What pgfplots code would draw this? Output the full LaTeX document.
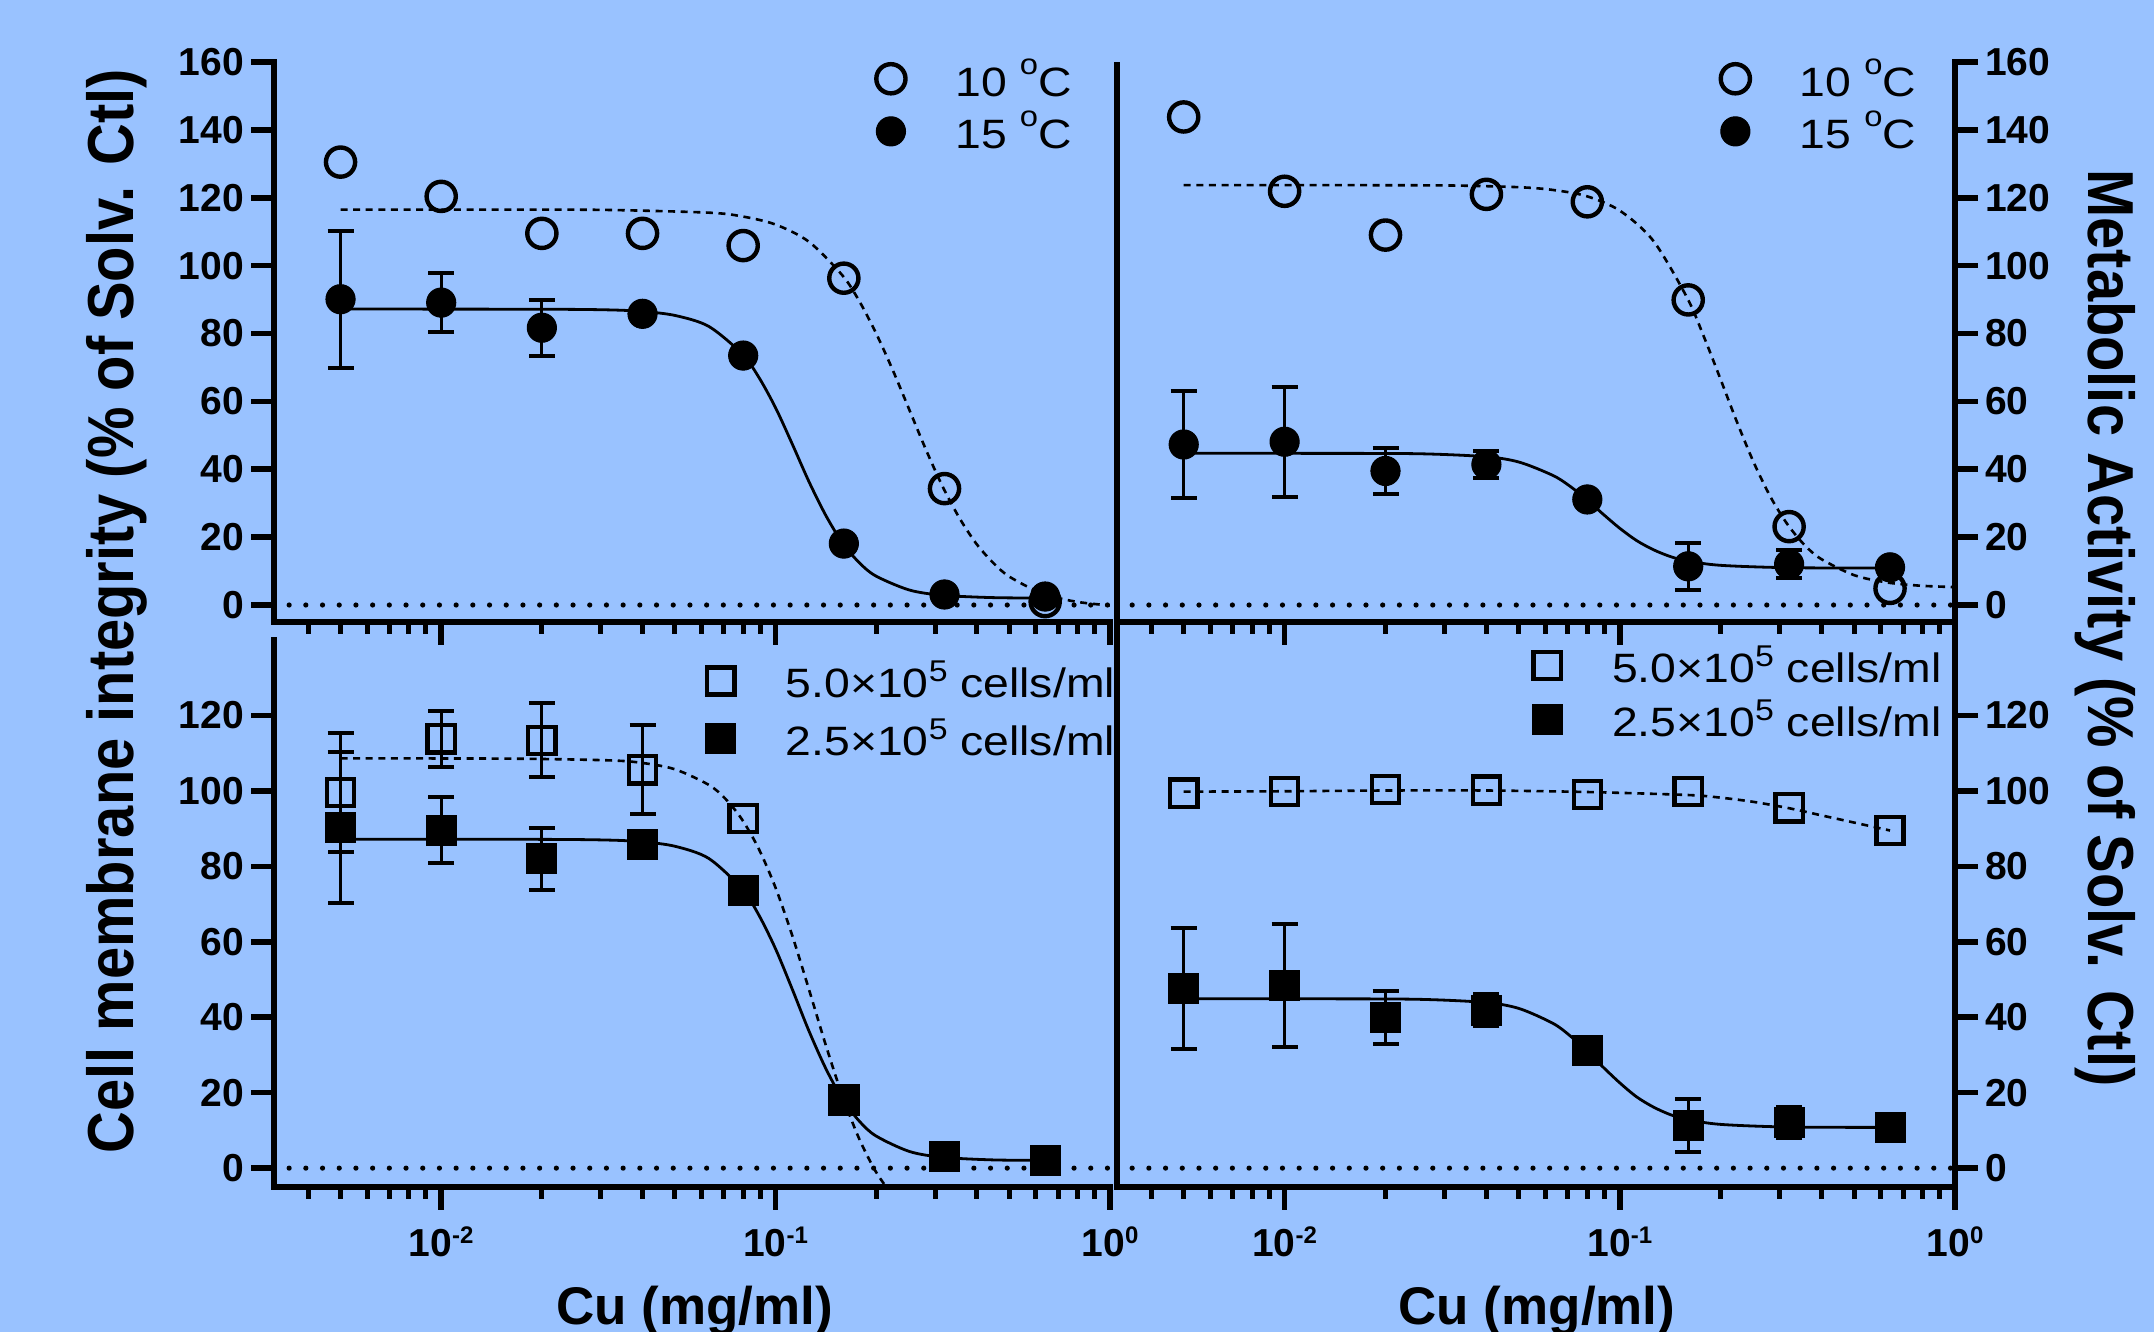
\documentclass[border=0pt]{standalone}
\usepackage{pgfplots}
\pgfplotsset{compat=1.18}
\usepackage{fontspec}
\setmainfont{Liberation Sans}
\newfontfamily\labfont[FakeStretch=0.89]{Liberation Sans}
\newfontfamily\legfont[FakeStretch=1.13]{Liberation Sans}
\definecolor{bg}{RGB}{153,194,255}
\newcommand\ticfont{\fontsize{19.5}{20}\selectfont\bfseries}
\newcommand\legsize{\legfont\fontsize{20.5}{22}\selectfont}
\newcommand\mysup[1]{\raisebox{6.5pt}{\fontsize{12}{12}\selectfont\bfseries #1}}
\newcommand\degC{\raisebox{11pt}{\fontsize{14.5}{14.5}\selectfont o}C}
\newcommand\cells[1]{#1×10\raisebox{8pt}{\fontsize{15}{15}\selectfont 5} cells/ml}

\pgfplotsset{
 every axis/.append style={
  scale only axis,
  xmode=log, log basis x=10,
  xmin=0.0031623, xmax=1,
  axis line style={-, line width=3pt, line cap=rect},
  tick align=outside,
  major tick length=11.5pt,
  minor tick length=6pt,
  major tick style={black, line width=2.8pt, line cap=butt},
  minor tick style={black, line width=2.5pt, line cap=butt},
  xtick={0.01,0.1,1},
  minor xtick={0.004,0.005,0.006,0.007,0.008,0.009,0.02,0.03,0.04,0.05,0.06,0.07,0.08,0.09,0.2,0.3,0.4,0.5,0.6,0.7,0.8,0.9},
  yticklabel style={font=\ticfont},
  xticklabel style={font=\ticfont, yshift=-5pt},
  /pgf/number format/assume math mode=true,
  clip mode=individual,
  axis x line*=bottom,
  legend cell align=left,
  legend style={draw=none, fill=none, inner sep=0pt, row sep=6pt, font=\legsize,
   /tikz/every odd column/.append style={column sep=25pt}, nodes={inner sep=0pt}},
 },
}
\pgfplotsset{
 zeroline/.style={black, line width=2.6pt, line cap=round, dash pattern=on 0pt off 8.35pt, forget plot},
 fitdash/.style={black, line width=1.3pt, dash pattern=on 3.5pt off 2.8pt, smooth, forget plot},
 fitsolid/.style={black, line width=1.4pt, smooth, forget plot},
 ebars/.style={forget plot, draw=none, mark=none,
  error bars/.cd, y dir=both, y explicit,
  error bar style={draw=black, line width=1.5pt, solid},
  error mark options={draw=black, line width=2pt, mark size=6.5pt, rotate=90}},
 opencirc/.style={only marks, mark=o, mark size=7.3pt, mark options={black, line width=2.2pt, fill=none}},
 fillcirc/.style={only marks, mark=*, mark size=7.3pt, mark options={black, fill=black, line width=0.5pt}},
 opensq/.style={only marks, mark=square, mark size=6.8pt, mark options={black, line width=2.2pt, fill=none}},
 fillsq/.style={only marks, mark=square*, mark size=7.5pt, mark options={black, fill=black, line width=0.5pt}},
}

\begin{document}
\begin{tikzpicture}
\fill[bg] (0pt,0pt) rectangle (1077pt,666pt);
\useasboundingbox (0pt,0pt) rectangle (1077pt,666pt);
\clip (0pt,0pt) rectangle (1077pt,666pt);

% ---------------- top left ----------------
\begin{axis}[at={(137pt,355pt)}, anchor=south west, width=418pt, height=280pt,
  ymin=-5, ymax=160, ytick={0,20,...,160}, xticklabels={},
  axis y line*=left, legend style={at={(0.72,1.007)}, anchor=north west}]
\addplot[zeroline] coordinates {(0.00351,0) (1,0)};
\addplot[fitdash] coordinates {(0.005,116.5) (0.0158,116.5) (0.0316,116.4) (0.0631,115.6) (0.0794,114.5) (0.1,112.1) (0.1259,107.0) (0.1585,97.1) (0.1778,89.6) (0.1995,80.2) (0.2239,69.3) (0.2512,57.5) (0.2818,45.7) (0.3162,34.8) (0.3548,25.6) (0.3981,18.1) (0.4467,12.5) (0.5012,8.3) (0.631,3.3) (0.7943,0.95) (1,-0.13)};
\addplot[fitsolid] coordinates {(0.005,87.2) (0.02,87.15) (0.0316,86.96) (0.04,86.5) (0.0501,85.3) (0.0631,82.1) (0.0794,74.0) (0.0891,67.1) (0.1,58.1) (0.1122,47.4) (0.1259,36.3) (0.1413,26.4) (0.1585,18.3) (0.1778,12.5) (0.1995,8.55) (0.2512,4.42) (0.3162,2.87) (0.4467,2.18) (0.64,2.05)};
\addplot[ebars] table[x=x, y=y, y error=e] {
x y e
0.005 90.1 20.2
0.01 89.1 8.7
0.02 81.7 8.2
};
\addplot[opencirc] coordinates {(0.005,130.5) (0.01,120.4) (0.02,109.5) (0.04,109.5) (0.08,105.9) (0.16,96.3) (0.32,34.3) (0.64,1.0)};
\addlegendentry{10 \degC}
\addplot[fillcirc] coordinates {(0.005,90.1) (0.01,89.1) (0.02,81.7) (0.04,85.8) (0.08,73.5) (0.16,18.1) (0.32,3.1) (0.64,2.5)};
\addlegendentry{15 \degC}
\end{axis}

% ---------------- top right ----------------
\begin{axis}[at={(558.5pt,355pt)}, anchor=south west, width=419pt, height=280pt,
  ymin=-5, ymax=160, ytick={0,20,...,160}, xticklabels={},
  axis y line*=right, legend style={at={(0.72,1.007)}, anchor=north west}]
\addplot[zeroline] coordinates {(0.00351,0) (1,0)};
\addplot[fitdash] coordinates {(0.005,123.7) (0.0158,123.7) (0.0316,123.6) (0.0501,123.1) (0.0631,122.3) (0.0794,120.5) (0.1,116.2) (0.1259,107.3) (0.1585,90.7) (0.1778,79.3) (0.1995,66.7) (0.2239,53.8) (0.2512,41.9) (0.2818,31.8) (0.3162,23.8) (0.3548,17.8) (0.3981,13.6) (0.5012,8.76) (0.631,6.6) (0.7943,5.67) (1,5.28)};
\addplot[fitsolid] coordinates {(0.005,44.7) (0.0126,44.68) (0.0251,44.57) (0.0398,43.7) (0.0501,42.1) (0.0631,38.2) (0.0708,35.1) (0.0794,31.2) (0.0891,26.8) (0.1,22.6) (0.1122,19.0) (0.1259,16.3) (0.1413,14.3) (0.1585,13.0) (0.1995,11.7) (0.3162,11.0) (0.64,10.9)};
\addplot[ebars] table[x=x, y=y, y error=e] {
x y e
0.005 47.3 15.85
0.01 48.1 16.15
0.02 39.5 6.8
0.04 41.4 4.05
0.16 11.4 6.9
0.32 12.0 4.15
};
\addplot[opencirc] coordinates {(0.005,143.8) (0.01,121.9) (0.02,109.0) (0.04,121.0) (0.08,118.8) (0.16,89.9) (0.32,23.1) (0.64,4.9)};
\addlegendentry{10 \degC}
\addplot[fillcirc] coordinates {(0.005,47.3) (0.01,48.1) (0.02,39.5) (0.04,41.4) (0.08,31.1) (0.16,11.4) (0.32,12.0) (0.64,11.1)};
\addlegendentry{15 \degC}
\end{axis}

% ---------------- bottom left ----------------
\begin{axis}[at={(137pt,72.5pt)}, anchor=south west, width=418pt, height=273.5pt,
  ymin=-5, ymax=140, ytick={0,20,...,120},
  xticklabels={10\mysup{-2},10\mysup{-1},10\mysup{0}},
  axis y line*=left, legend style={at={(0.516,0.962)}, anchor=north west, row sep=9pt}]
\addplot[zeroline] coordinates {(0.00351,0) (1,0)};
\addplot[fitdash] coordinates {(0.005,108.6) (0.0158,108.55) (0.0316,108.1) (0.04,107.4) (0.0501,105.7) (0.0631,101.6) (0.0708,97.9) (0.0794,92.4) (0.0891,84.6) (0.1,74.3) (0.1122,61.6) (0.1259,47.3) (0.1413,32.6) (0.1585,19.1) (0.1778,7.8) (0.1995,-0.95) (0.2239,-7.3)};
\addplot[fitsolid] coordinates {(0.005,87.2) (0.02,87.15) (0.0316,86.96) (0.04,86.5) (0.0501,85.3) (0.0631,82.1) (0.0794,74.0) (0.0891,67.1) (0.1,58.1) (0.1122,47.4) (0.1259,36.3) (0.1413,26.4) (0.1585,18.3) (0.1778,12.5) (0.1995,8.55) (0.2512,4.42) (0.3162,2.87) (0.4467,2.18) (0.64,2.05)};
\addplot[ebars] table[x=x, y=y, y error=e] {
x y e
0.005 99.6 15.8
0.01 113.8 7.5
0.02 113.4 9.8
0.04 105.6 11.8
0.005 90.2 20.0
0.01 89.6 8.7
0.02 82.0 8.2
};
\addplot[opensq] coordinates {(0.005,99.6) (0.01,113.8) (0.02,113.4) (0.04,105.6) (0.08,92.7) (0.16,18.0)};
\addlegendentry{\cells{5.0}}
\addplot[fillsq] coordinates {(0.005,90.2) (0.01,89.6) (0.02,82.0) (0.04,85.8) (0.08,73.6) (0.16,17.9) (0.32,3.2) (0.64,1.9)};
\addlegendentry{\cells{2.5}}
\end{axis}

% ---------------- bottom right ----------------
\begin{axis}[at={(558.5pt,72.5pt)}, anchor=south west, width=419pt, height=273.5pt,
  ymin=-5, ymax=140, ytick={0,20,...,120},
  xticklabels={10\mysup{-2},10\mysup{-1},10\mysup{0}},
  axis y line*=right, legend style={at={(0.495,0.99)}, anchor=north west, row sep=7pt}]
\addplot[zeroline] coordinates {(0.00351,0) (1,0)};
\addplot[fitdash] coordinates {(0.005,99.8) (0.01,99.9) (0.02,100.1) (0.04,100.1) (0.08,99.7) (0.16,98.9) (0.2,98.2) (0.25,97.1) (0.32,95.4) (0.4,93.5) (0.5,91.6) (0.64,89.5)};
\addplot[fitsolid] coordinates {(0.005,44.9) (0.0126,44.88) (0.0251,44.75) (0.0398,43.9) (0.0501,42.3) (0.0631,38.4) (0.0708,35.2) (0.0794,31.2) (0.0891,26.8) (0.1,22.6) (0.1122,18.9) (0.1259,16.2) (0.1413,14.2) (0.1585,12.9) (0.1995,11.6) (0.3162,10.9) (0.64,10.8)};
\addplot[ebars] table[x=x, y=y, y error=e] {
x y e
0.005 47.6 16.0
0.01 48.4 16.2
0.02 39.9 7.0
0.04 41.9 4.3
0.16 11.4 7.0
0.32 12.1 4.0
};
\addplot[opensq] coordinates {(0.005,99.4) (0.01,99.8) (0.02,100.4) (0.04,100.2) (0.08,99.0) (0.16,99.8) (0.32,95.5) (0.64,89.5)};
\addlegendentry{\cells{5.0}}
\addplot[fillsq] coordinates {(0.005,47.6) (0.01,48.4) (0.02,39.9) (0.04,41.9) (0.08,31.1) (0.16,11.4) (0.32,12.1) (0.64,10.8)};
\addlegendentry{\cells{2.5}}
\end{axis}

% left spines of the right-hand panels
\draw[line width=3pt] (558.5pt,72.5pt) -- (558.5pt,635pt);

% axis titles
\node[rotate=90, anchor=base, font=\labfont\bfseries\fontsize{32.5}{34}\selectfont] at (66.5pt,360.5pt) {Cell membrane integrity (\% of Solv. Ctl)};
\node[rotate=-90, anchor=base, font=\labfont\bfseries\fontsize{32.5}{34}\selectfont] at (1044pt,352pt) {Metabolic Activity (\% of Solv. Ctl)};
\node[anchor=base, font=\bfseries\fontsize{26.5}{28}\selectfont] at (347.25pt,3.5pt) {Cu (mg/ml)};
\node[anchor=base, font=\bfseries\fontsize{26.5}{28}\selectfont] at (768.5pt,3.5pt) {Cu (mg/ml)};
\end{tikzpicture}
\end{document}
